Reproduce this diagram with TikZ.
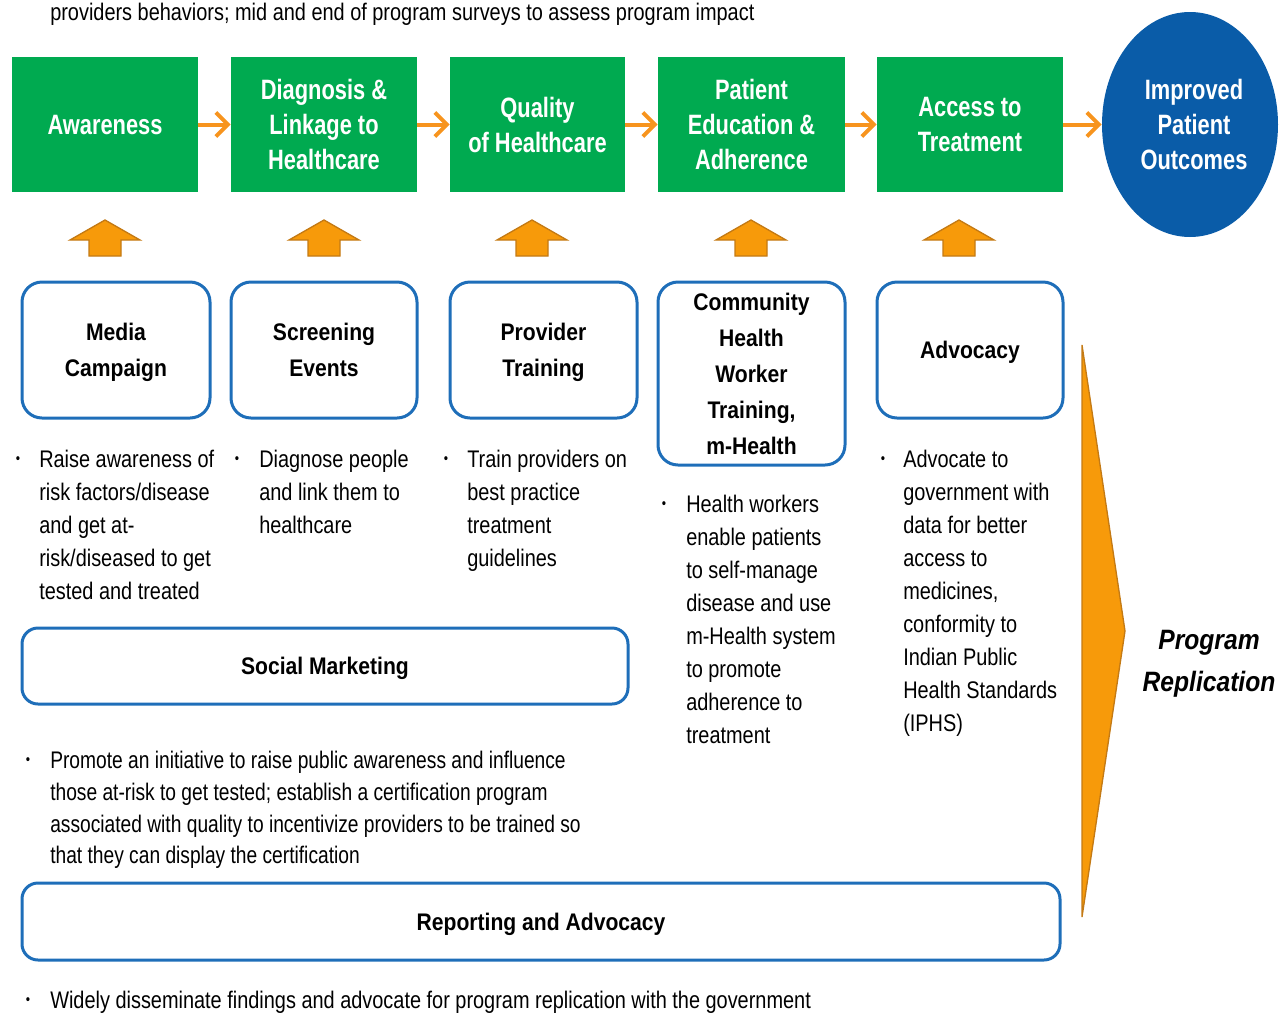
\documentclass[tikz,border=0pt]{standalone}
\usepackage{fontspec}
\setmainfont{Liberation Sans}
\newfontfamily\bodyfont{Liberation Sans}[FakeStretch=0.83]
\newfontfamily\socfont{Liberation Sans}[FakeStretch=0.80]
\newfontfamily\lblfont{Liberation Sans}[FakeStretch=0.78]
\newfontfamily\boxfont{Liberation Sans}[FakeStretch=0.88]
\usetikzlibrary{arrows.meta,shapes.geometric}
\definecolor{grn}{RGB}{0,170,80}
\definecolor{bbl}{RGB}{30,110,185}
\definecolor{cblue}{RGB}{10,92,168}
\definecolor{org}{RGB}{247,148,30}
\definecolor{orgfill}{RGB}{247,154,10}
\definecolor{orgdark}{RGB}{196,122,20}
\tikzset{
  gbox/.style={fill=grn, draw=none, text=white, inner sep=0pt, align=center,
    minimum width=139.5pt, minimum height=101.25pt,
    font=\lblfont\bfseries\fontsize{21}{26.25}\selectfont},
  bbox/.style={draw=bbl, line width=2.25pt, rounded corners=15pt, fill=white, inner sep=0pt,
    minimum width=139.5pt, minimum height=102pt, text depth=0pt,
    align=center, font=\boxfont\bfseries\fontsize{18}{27}\selectfont},
  harrow/.style={draw=org, line width=3pt, -{Straight Barb[length=9pt,width=18pt]}},
  uparrow/.style={fill=orgfill, draw=orgdark, line width=1pt, line join=miter},
  body/.style={font=\bodyfont\fontsize{18}{24.75}\selectfont, align=left, anchor=north west, inner sep=0pt},
  bul/.style={font=\bodyfont\fontsize{11}{11}\selectfont, inner sep=0pt}
}
\begin{document}
\begin{tikzpicture}[x=0.75pt,y=-0.75pt]
\useasboundingbox (0,0) rectangle (1279,1015);
% top text
\node[body] (top) at (50,3) {providers behaviors; mid and end of program surveys to assess program impact};
% green boxes
\node[gbox] (g1) at (105,124.5) {Awareness};
\node[gbox] (g2) at (324,124.5) {Diagnosis \&\\Linkage to\\Healthcare};
\node[gbox, minimum width=131.25pt] (g3) at (537.5,124.5) {Quality\\of Healthcare};
\node[gbox, minimum width=140.25pt] (g4) at (751.5,124.5) {Patient\\Education \&\\Adherence};
\node[gbox] (g5) at (970,124.5) {Access to\\Treatment};
\node[ellipse, fill=cblue, text=white, inner sep=0pt, minimum width=132pt, minimum height=168.75pt,
  align=center, font=\lblfont\bfseries\fontsize{21}{26.25}\selectfont] (out) at (1190,124.5)
  {\hspace*{6pt}Improved\\\hspace*{6pt}Patient\\\hspace*{6pt}Outcomes};
\draw[harrow] (g1.east) -- (g2.west);
\draw[harrow] (g2.east) -- (g3.west);
\draw[harrow] (g3.east) -- (g4.west);
\draw[harrow] (g4.east) -- (g5.west);
\draw[harrow] (g5.east) -- (out.west);
% up arrows
\foreach \cx in {105,324,532,751,959}{
  \draw[uparrow] (\cx,220) -- (\cx+35,240) -- (\cx+16,240) -- (\cx+16,256) -- (\cx-16,256)
    -- (\cx-16,240) -- (\cx-35,240) -- cycle;
}
% blue boxes
\node[bbox, minimum width=141pt] (b1) at (116,350) {Media\\Campaign};
\node[bbox] (b2) at (324,350) {Screening\\Events};
\node[bbox, minimum width=140.25pt] (b3) at (543.5,350) {Provider\\Training};
\node[bbox, minimum width=140.25pt, minimum height=137.25pt] (b4) at (751.5,373.5) {Community\\Health\\Worker\\Training,\\m-Health};
\node[bbox] (b5) at (970,350) {Advocacy};
% bullets
\node[bul] (d1) at (18,460) {•};
\node[body] (t1) at (39,450) {Raise awareness of\\risk factors/disease\\and get at-\\risk/diseased to get\\tested and treated};
\node[bul] (d2) at (237,460) {•};
\node[body] (t2) at (259,450) {Diagnose people\\and link them to\\healthcare};
\node[bul] (d3) at (446,460) {•};
\node[body] (t3) at (467,450) {Train providers on\\best practice\\treatment\\guidelines};
\node[bul] (d4) at (664,505) {•};
\node[body] (t4) at (686,495) {Health workers\\enable patients\\to self-manage\\disease and use\\m-Health system\\to promote\\adherence to\\treatment};
\node[bul] (d5) at (883,460) {•};
\node[body] (t5) at (903,450) {Advocate to\\government with\\data for better\\access to\\medicines,\\conformity to\\Indian Public\\Health Standards\\(IPHS)};
% social marketing
\node[bbox, rounded corners=12pt, minimum width=454.5pt, minimum height=57pt] (sm) at (325,666) {Social Marketing};
\node[bul] (d6) at (28,761) {•};
\node[body, font=\socfont\fontsize{18}{23.75}\selectfont] (t6) at (50,751) {Promote an initiative to raise public awareness and influence\\those at-risk to get tested; establish a certification program\\associated with quality to incentivize providers to be trained so\\that they can display the certification};
% reporting
\node[bbox, rounded corners=12pt, minimum width=778.5pt, minimum height=57.75pt] (ra) at (541,921.5) {Reporting and Advocacy};
\node[bul] (d7) at (28,1001) {•};
\node[body] (t7) at (50,991) {Widely disseminate findings and advocate for program replication with the government};
% replication chevron
\draw[fill=orgfill, draw=orgdark, line width=1pt] (1082,345) -- (1125,631) -- (1082,917) -- cycle;
\node[font=\boxfont\bfseries\itshape\fontsize{21}{31.5}\selectfont, align=center, inner sep=0pt] (rep) at (1209,664) {Program\\Replication};
\end{tikzpicture}
\end{document}
